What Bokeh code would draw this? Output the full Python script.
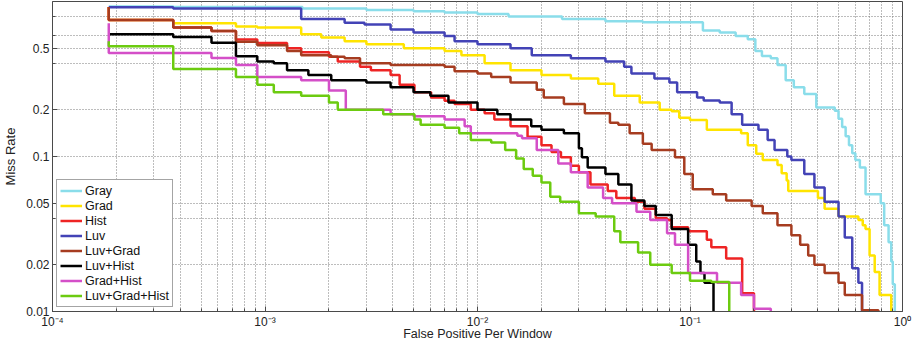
from bokeh.plotting import figure
from bokeh.models import FixedTicker, Legend, LegendItem, Range1d, GlobalInlineStyleSheet
from bokeh.embed import file_html
from bokeh.resources import INLINE

# ---------------- data (false positives per window, miss rate) ----------------
series_names = ["Gray", "Grad", "Hist", "Luv", "Luv+Grad", "Luv+Hist", "Grad+Hist", "Luv+Grad+Hist"]
series_colors = ["#8ADDEA", "#FFE400", "#EE2424", "#4343B6", "#A63C20", "#000000", "#D44FC8", "#6CCB10"]

gray_fppw = [1.84e-4, 3.7e-4, 1.5e-3, 3.0e-3, 5.0e-3, 7.0e-3, 1.0e-2, 1.4e-2, 2.5e-2, 4.0e-2, 6.0e-2,
             0.115, 0.138, 0.164, 0.187, 0.203, 0.218, 0.24, 0.258, 0.282, 0.308, 0.345, 0.393, 0.48,
             0.50, 0.52, 0.54, 0.56, 0.58, 0.60, 0.63, 0.67, 0.79, 0.82, 0.86, 0.885, 0.90, 0.92]
gray_miss = [0.93, 0.92, 0.90, 0.88, 0.865, 0.85, 0.83, 0.80, 0.77, 0.745, 0.735,
             0.65, 0.63, 0.60, 0.57, 0.48, 0.445, 0.43, 0.39, 0.31, 0.28, 0.253, 0.207, 0.197,
             0.175, 0.155, 0.135, 0.118, 0.105, 0.095, 0.085, 0.057, 0.050, 0.036, 0.028, 0.021, 0.015, 0.009]

grad_fppw = [1.84e-4, 1.84e-4, 3.7e-4, 7.3e-4, 9.2e-4, 1.48e-3, 1.84e-3, 2.37e-3, 3.0e-3, 4.5e-3, 7.0e-3,
             8.4e-3, 1.08e-2, 1.43e-2, 2.0e-2, 2.75e-2, 3.7e-2, 4.4e-2, 5.8e-2, 7.2e-2, 8.2e-2, 8.9e-2,
             0.10, 0.12, 0.174, 0.187, 0.205, 0.22, 0.258, 0.27, 0.285, 0.29, 0.40, 0.43, 0.50, 0.62,
             0.65, 0.67, 0.70, 0.74, 0.78, 0.885]
grad_miss = [0.92, 0.76, 0.724, 0.69, 0.68, 0.615, 0.585, 0.555, 0.53, 0.50, 0.48,
             0.45, 0.40, 0.36, 0.335, 0.318, 0.295, 0.247, 0.223, 0.20, 0.196, 0.178,
             0.172, 0.149, 0.141, 0.118, 0.104, 0.095, 0.088, 0.078, 0.07, 0.060, 0.054, 0.046, 0.041, 0.039,
             0.036, 0.034, 0.023, 0.018, 0.0128, 0.009]

hist_fppw = [1.84e-4, 1.84e-4, 3.7e-4, 5.6e-4, 7.3e-4, 9.2e-4, 1.27e-3, 1.48e-3, 2.0e-3, 2.2e-3, 2.8e-3,
             3.15e-3, 3.9e-3, 4.3e-3, 5.05e-3, 6.05e-3, 7.0e-3, 7.8e-3, 9.3e-3, 1.08e-2, 1.2e-2, 1.43e-2,
             1.72e-2, 2.0e-2, 2.23e-2, 2.47e-2, 2.75e-2, 3.0e-2, 3.4e-2, 4.1e-2, 4.5e-2, 5.5e-2, 6.1e-2,
             6.9e-2, 7.8e-2, 8.2e-2, 9.8e-2, 0.12, 0.126, 0.148, 0.176, 0.20]
hist_miss = [0.92, 0.76, 0.68, 0.646, 0.568, 0.54, 0.50, 0.47, 0.44, 0.41, 0.38,
             0.36, 0.335, 0.29, 0.26, 0.24, 0.229, 0.218, 0.20, 0.19, 0.173, 0.157,
             0.134, 0.118, 0.107, 0.099, 0.087, 0.079, 0.066, 0.060, 0.054, 0.051, 0.046,
             0.040, 0.039, 0.035, 0.033, 0.029, 0.026, 0.022, 0.0131, 0.009]

luv_fppw = [1.84e-4, 3.7e-4, 1.48e-3, 2.37e-3, 2.94e-3, 3.9e-3, 5.0e-3, 7.0e-3, 7.8e-3, 1.0e-2, 1.43e-2,
            1.8e-2, 2.75e-2, 4.0e-2, 4.9e-2, 5.3e-2, 6.8e-2, 8.0e-2, 8.7e-2, 0.108, 0.116, 0.138, 0.157,
            0.176, 0.21, 0.232, 0.25, 0.287, 0.30, 0.345, 0.385, 0.43, 0.50, 0.535, 0.58, 0.62, 0.645]
luv_miss = [0.917, 0.90, 0.77, 0.73, 0.71, 0.66, 0.63, 0.60, 0.555, 0.53, 0.50,
            0.45, 0.43, 0.41, 0.38, 0.343, 0.318, 0.30, 0.26, 0.24, 0.23, 0.223, 0.187,
            0.16, 0.149, 0.128, 0.11, 0.10, 0.095, 0.077, 0.063, 0.051, 0.041, 0.030, 0.019, 0.0153, 0.009]

luvgrad_fppw = [1.84e-4, 1.84e-4, 3.7e-4, 5.6e-4, 7.3e-4, 9.2e-4, 1.27e-3, 1.48e-3, 2.05e-3, 2.37e-3, 2.8e-3,
                3.9e-3, 7.0e-3, 7.8e-3, 1.0e-2, 1.16e-2, 1.43e-2, 1.9e-2, 2.05e-2, 2.55e-2, 3.2e-2, 4.2e-2,
                4.6e-2, 5.2e-2, 6.0e-2, 6.6e-2, 8.5e-2, 9.4e-2, 0.103, 0.128, 0.148, 0.195, 0.22, 0.258,
                0.30, 0.33, 0.36, 0.385, 0.43, 0.50, 0.535, 0.645, 0.77]
luvgrad_miss = [0.92, 0.76, 0.68, 0.646, 0.55, 0.522, 0.48, 0.45, 0.44, 0.43, 0.40,
                0.39, 0.38, 0.355, 0.343, 0.326, 0.30, 0.27, 0.24, 0.218, 0.19, 0.165,
                0.16, 0.141, 0.121, 0.11, 0.099, 0.077, 0.0615, 0.057, 0.052, 0.048, 0.043, 0.036,
                0.031, 0.027, 0.023, 0.020, 0.0177, 0.0153, 0.0128, 0.0102, 0.009]

luvhist_fppw = [1.84e-4, 3.7e-4, 5.6e-4, 7.3e-4, 9.2e-4, 1.1e-3, 1.27e-3, 1.6e-3, 2.05e-3, 3.0e-3, 3.9e-3,
                5.0e-3, 6.0e-3, 7.3e-3, 1.0e-2, 1.24e-2, 1.43e-2, 1.79e-2, 2.0e-2, 2.55e-2, 3.0e-2, 3.1e-2,
                3.3e-2, 4.0e-2, 4.6e-2, 5.3e-2, 6.1e-2, 6.9e-2, 8.2e-2, 9.8e-2, 0.107, 0.112, 0.117, 0.129]
luvhist_miss = [0.615, 0.59, 0.542, 0.443, 0.41, 0.40, 0.36, 0.335, 0.31, 0.30, 0.28,
                0.26, 0.247, 0.223, 0.20, 0.187, 0.173, 0.157, 0.149, 0.141, 0.113, 0.099,
                0.085, 0.077, 0.066, 0.052, 0.048, 0.042, 0.034, 0.027, 0.021, 0.0177, 0.0153, 0.009]

gradhist_fppw = [1.84e-4, 1.84e-4, 5.6e-4, 7.3e-4, 9.2e-4, 1.48e-3, 2.0e-3, 2.4e-3, 3.9e-3, 5.0e-3, 7.0e-3,
                 8.7e-3, 9.3e-3, 1.54e-2, 1.62e-2, 1.9e-2, 2.4e-2, 2.75e-2, 3.3e-2, 3.9e-2, 4.3e-2, 5.6e-2,
                 6.5e-2, 7.8e-2, 8.5e-2, 9.8e-2, 0.134, 0.174, 0.20, 0.24]
gradhist_miss = [0.724, 0.465, 0.432, 0.39, 0.326, 0.31, 0.267, 0.20, 0.187, 0.182, 0.173,
                 0.157, 0.141, 0.136, 0.131, 0.11, 0.090, 0.079, 0.063, 0.054, 0.050, 0.044,
                 0.039, 0.032, 0.027, 0.0177, 0.0153, 0.0128, 0.0104, 0.009]

luvgradhist_fppw = [1.84e-4, 1.84e-4, 3.7e-4, 7.3e-4, 9.2e-4, 1.1e-3, 1.48e-3, 2.0e-3, 2.2e-3, 3.6e-3, 5.05e-3,
                    5.4e-3, 7.0e-3, 8.2e-3, 9.3e-3, 1.16e-2, 1.35e-2, 1.52e-2, 1.65e-2, 1.82e-2, 2.0e-2, 2.2e-2,
                    2.45e-2, 3.0e-2, 3.6e-2, 4.4e-2, 4.7e-2, 5.7e-2, 6.5e-2, 8.2e-2, 0.10, 0.126, 0.153]
luvgradhist_miss = [0.555, 0.515, 0.367, 0.326, 0.29, 0.26, 0.247, 0.223, 0.20, 0.187, 0.173,
                    0.16, 0.153, 0.141, 0.128, 0.123, 0.11, 0.097, 0.083, 0.075, 0.068, 0.055,
                    0.051, 0.043, 0.041, 0.033, 0.028, 0.024, 0.020, 0.0177, 0.0158, 0.0155, 0.009]

series_fppw = [gray_fppw, grad_fppw, hist_fppw, luv_fppw, luvgrad_fppw, luvhist_fppw, gradhist_fppw, luvgradhist_fppw]
series_miss = [gray_miss, grad_miss, hist_miss, luv_miss, luvgrad_miss, luvhist_miss, gradhist_miss, luvgradhist_miss]

x_ticks = [1e-4, 1e-3, 1e-2, 1e-1, 1.0]
x_tick_labels = ["10\u207b\u2074", "10\u207b\u00b3", "10\u207b\u00b2", "10\u207b\u00b9", "10\u2070"]
x_minor_ticks = [m * d for d in [1e-4, 1e-3, 1e-2, 1e-1] for m in range(2, 10)]
y_ticks = [0.01, 0.02, 0.05, 0.1, 0.2, 0.5]
y_tick_labels = ["0.01", "0.02", "0.05", "0.1", "0.2", "0.5"]
y_minor_ticks = [0.04, 0.4, 0.6, 0.8]

FONT = "Liberation Sans"

p = figure(width=913, height=344, x_axis_type="log", y_axis_type="log",
           x_range=Range1d(1e-4, 1.0), y_range=Range1d(0.01, 1.0),
           output_backend="svg", toolbar_location=None,
           min_border_left=49, min_border_right=11, min_border_top=1, min_border_bottom=33)
# keep the page free of scrollbars so that the figure keeps its full size
p.stylesheets = [GlobalInlineStyleSheet(css="html, body { overflow: hidden !important; }")]
p.background_fill_color = "white"
p.border_fill_color = "white"
p.outline_line_color = "#4a4a4a"
p.outline_line_width = 1

for ax, ticks, minor, labels in [(p.xaxis, x_ticks, x_minor_ticks, x_tick_labels),
                                 (p.yaxis, y_ticks, y_minor_ticks, y_tick_labels)]:
    ax.ticker = FixedTicker(ticks=ticks, minor_ticks=minor)
    ax.major_label_overrides = dict(zip(ticks, labels))
    ax.major_tick_in = 5
    ax.major_tick_out = 0
    ax.minor_tick_in = 3
    ax.minor_tick_out = 0
    ax.axis_line_color = "#4a4a4a"
    ax.major_tick_line_color = "#4a4a4a"
    ax.minor_tick_line_color = "#4a4a4a"
    ax.major_label_text_font = FONT
    ax.major_label_text_font_size = "12px"
    ax.major_label_text_color = "#222222"
    ax.axis_label_text_font = FONT
    ax.axis_label_text_font_style = "normal"
    ax.axis_label_text_color = "#222222"

p.xaxis.axis_label = "False Positive Per Window"
p.yaxis.axis_label = "Miss Rate"
p.xaxis.axis_label_text_font_size = "12.5px"
p.yaxis.axis_label_text_font_size = "13px"
p.xaxis.major_label_standoff = 3
p.yaxis.major_label_standoff = 3
p.xaxis.axis_label_standoff = -5
p.yaxis.axis_label_standoff = 5

for g in (p.xgrid, p.ygrid):
    g.grid_line_color = "#7a7a7a"
    g.grid_line_dash = "1 2"
    g.grid_line_width = 1
    g.minor_grid_line_color = "#7a7a7a"
    g.minor_grid_line_dash = "1 2"
    g.minor_grid_line_width = 1

items = []
for name, color, xs, ys in zip(series_names, series_colors, series_fppw, series_miss):
    r = p.step(xs, ys, mode="after", line_color=color, line_width=2.5)
    items.append(LegendItem(label=name, renderers=[r]))

legend = Legend(items=items, location="bottom_left")
legend.margin = 4
legend.padding = 3
legend.spacing = 0
legend.label_height = 15
legend.glyph_height = 15
legend.glyph_width = 22
legend.label_standoff = 3
legend.label_text_font = FONT
legend.label_text_font_size = "12.5px"
legend.label_text_color = "#111111"
legend.border_line_color = "#4a4a4a"
legend.border_line_width = 1
legend.background_fill_color = "white"
legend.background_fill_alpha = 1.0
p.add_layout(legend)

open("out.html", "w").write(file_html(p, INLINE))
